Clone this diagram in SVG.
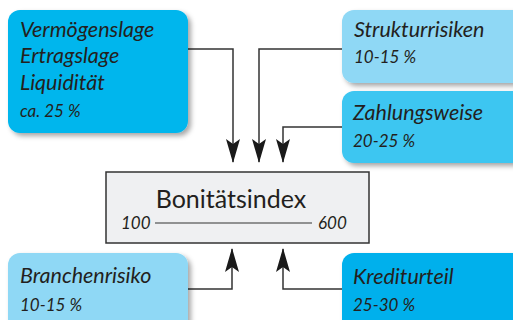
<svg xmlns="http://www.w3.org/2000/svg" width="513" height="320" viewBox="0 0 513 320">
<defs>
<filter id="sh" x="-10%" y="-10%" width="130%" height="140%">
<feDropShadow dx="3" dy="3" stdDeviation="2.5" flood-color="#000" flood-opacity="0.35"/>
</filter>
<marker id="ah" viewBox="0 0 24 14" refX="23" refY="7" markerWidth="24" markerHeight="14" markerUnits="userSpaceOnUse" orient="auto">
<path d="M0,0 L24,7 L0,14 L5,7 Z" fill="#1a1a1a"/>
</marker>
<style>
.t{font-family:Lato,"Liberation Sans",sans-serif;font-style:italic;fill:#231f20;}
.big{font-size:21.5px;}
.sm{font-size:17px;}
.c{fill:none;stroke:#333;stroke-width:1.5;}
</style>
</defs>
<rect width="513" height="320" fill="#fff"/>
<g id="connectors">
<polyline class="c" points="188,49 233,49 233,162" marker-end="url(#ah)"/>
<polyline class="c" points="342,49 259,49 259,162" marker-end="url(#ah)"/>
<polyline class="c" points="342,127 283,127 283,162" marker-end="url(#ah)"/>
<polyline class="c" points="188,289 232,289 232,249" marker-end="url(#ah)"/>
<polyline class="c" points="342,289 283,289 283,249" marker-end="url(#ah)"/>
</g>
<g id="vermoegen">
<rect x="8" y="10" width="180" height="123" rx="12" fill="#00b6ed" filter="url(#sh)"/>
<text class="t big" x="20" y="37">Vermögenslage</text>
<text class="t big" x="20" y="63">Ertragslage</text>
<text class="t big" x="20" y="90">Liquidität</text>
<text class="t sm" x="20" y="117">ca. 25 %</text>
</g>
<g id="struktur">
<rect x="342" y="10" width="190" height="73" rx="12" fill="#8fd8f5" filter="url(#sh)"/>
<text class="t big" x="354" y="37">Strukturrisiken</text>
<text class="t sm" x="354" y="63">10-15 %</text>
</g>
<g id="zahlung">
<rect x="342" y="91" width="190" height="72" rx="12" fill="#3cc6f1" filter="url(#sh)"/>
<text class="t big" x="353" y="120">Zahlungsweise</text>
<text class="t sm" x="353" y="147">20-25 %</text>
</g>
<g id="bonitaet">
<rect x="106" y="172" width="263" height="71" fill="#eff0f2" stroke="#333" stroke-width="1.5"/>
<text x="231" y="208" text-anchor="middle" style="font-family:Lato,'Liberation Sans',sans-serif;font-size:25px;fill:#231f20">Bonitätsindex</text>
<text class="t sm" x="121" y="229">100</text>
<line x1="155" y1="223" x2="312" y2="223" stroke="#333" stroke-width="1.2"/>
<text class="t sm" x="318" y="229">600</text>
</g>
<g id="branche">
<rect x="8" y="253" width="180" height="90" rx="12" fill="#8fd8f5" filter="url(#sh)"/>
<text class="t big" x="20" y="283">Branchenrisiko</text>
<text class="t sm" x="20" y="311">10-15 %</text>
</g>
<g id="kredit">
<rect x="342" y="253" width="190" height="90" rx="12" fill="#00b0ec" filter="url(#sh)"/>
<text class="t big" x="353" y="284">Krediturteil</text>
<text class="t sm" x="353" y="311">25-30 %</text>
</g>
</svg>
